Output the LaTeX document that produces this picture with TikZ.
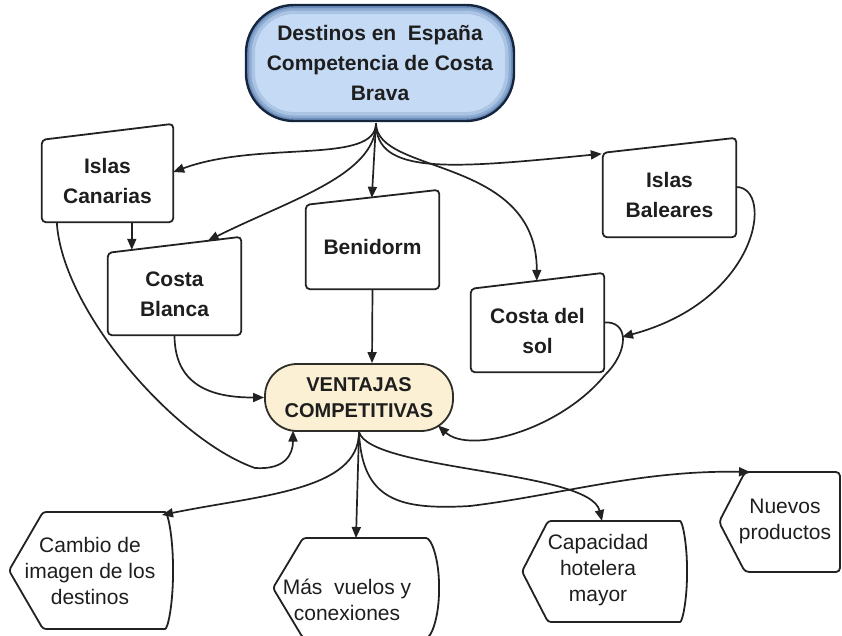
\documentclass[tikz,border=0pt]{standalone}
\usepackage{fontspec}
\setmainfont{Liberation Sans}
\usetikzlibrary{arrows.meta,calc}
\definecolor{titlefill}{HTML}{C5DBF5}
\definecolor{titleborder}{HTML}{15253D}
\definecolor{titleglow}{HTML}{4F74A8}
\definecolor{ventfill}{HTML}{FBF0D3}
\definecolor{ventborder}{HTML}{2E2E28}
\definecolor{ink}{HTML}{1E1E1E}
\definecolor{lineclr}{HTML}{222222}
\begin{document}
\begin{tikzpicture}[x=1pt,y=-1pt,
  boldtxt/.style={font=\bfseries\fontsize{21}{30}\selectfont, text=ink, align=center},
  regtxt/.style={font=\fontsize{21}{26}\selectfont, text=ink, align=center, inner sep=0pt},
  slbox/.style={boldtxt, draw=none, inner sep=0pt},
  outline/.style={draw=lineclr, line width=1.8pt, rounded corners=4pt, line join=round},
  conn/.style={draw=lineclr, line width=1.7pt, line join=round, -{Triangle[length=11pt,width=9pt]}},
  titlestyle/.style={boldtxt, rectangle, rounded corners=48pt, minimum width=268, minimum height=116,
    inner sep=0pt, fill=titlefill, draw=titleborder, line width=2.4pt,
    path picture={
      \foreach \w/\o in {18/0.22, 11/0.32, 6/0.5} {
        \draw[line width=\w pt, titleglow, opacity=\o, rounded corners=48pt]
          (path picture bounding box.south west) rectangle (path picture bounding box.north east);}
    }},
  ventstyle/.style={rectangle, rounded corners=32pt, minimum width=188, minimum height=67, inner sep=0pt,
    fill=ventfill, draw=ventborder, line width=1.8pt, text=ink, align=center,
    font=\bfseries\fontsize{20}{26}\selectfont}
]
\useasboundingbox (0,0) rectangle (842,635);

% main nodes
\node[titlestyle] (title) at (380,63) {Destinos en~ España\\Competencia de Costa\\Brava};
\node[ventstyle] (vent) at (359,397.5) {VENTAJAS\\COMPETITIVAS};

% slanted boxes
\node[slbox, minimum width=131, minimum height=82] (can) at (107.5,181) {Islas\\Canarias};
\node[slbox, minimum width=133, minimum height=82] (cb) at (174.5,294) {Costa\\Blanca};
\node[slbox, minimum width=133, minimum height=84] (ben) at (372.5,247) {Benidorm};
\node[slbox, minimum width=133, minimum height=84] (bal) at (669.5,195) {Islas\\Baleares};
\node[slbox, minimum width=133, minimum height=83] (csol) at (537.5,330.5) {Costa del\\sol};

\draw[outline] (can.south west) -- (can.north west) -- ($(can.north east)+(0,-16)$) -- (can.south east) -- cycle;
\draw[outline] (cb.south west) -- (cb.north west) -- ($(cb.north east)+(0,-16)$) -- (cb.south east) -- cycle;
\draw[outline] (ben.south west) -- (ben.north west) -- ($(ben.north east)+(0,-15)$) -- (ben.south east) -- cycle;
\draw[outline] (bal.south west) -- (bal.north west) -- ($(bal.north east)+(0,-15)$) -- (bal.south east) -- cycle;
\draw[outline] (csol.south west) -- (csol.north west) -- ($(csol.north east)+(0,-16)$) -- (csol.south east) -- cycle;

% bottom display shapes
\draw[outline, rounded corners=3pt] (9,570.5) -- (43,512) -- (162,512) .. controls (168.1,512) and (173,538.2) .. (173,570.5)
  .. controls (173,602.8) and (168.1,629) .. (162,629) -- (43,629) -- cycle;
\draw[outline, rounded corners=3pt] (273,588) -- (303,538) -- (423,538) .. controls (431.8,538) and (439,560.4) .. (439,588)
  .. controls (439,615.6) and (431.8,638) .. (423,638) -- (303,638) -- cycle;
\draw[outline, rounded corners=3pt] (522,571.5) -- (548,521) -- (677,521) .. controls (682.5,521) and (687,543.6) .. (687,571.5)
  .. controls (687,599.4) and (682.5,622) .. (677,622) -- (548,622) -- cycle;
\draw[outline, rounded corners=4pt] (719,522) -- (745,472) -- (840,472) -- (840,572) -- (745,572) -- cycle;

\node[regtxt] (camtext) at (90,571) {Cambio de\\imagen de los\\destinos};
\node[regtxt] (mastext) at (347,600) {Más~ vuelos y\\conexiones};
\node[regtxt] (captext) at (598,570) {Capacidad\\hotelera\\mayor};
\node[regtxt] (nuetext) at (785,521) {Nuevos\\productos};

% connectors from the title
\coordinate (root) at ($(title.south)+(-4,1)$);
\draw[conn] (root) .. controls +(0,42) and +(87,-32) .. ($(can.east)+(0,-9)$);
\draw[conn] (root) .. controls +(0,52) and +(82,-41) .. ($(cb.north west)+(100,-12)$);
\draw[conn] (root) -- ($(ben.north west)+(66,-7)$);
\draw[conn] (root) .. controls +(0,52) and +(-152,15) .. ($(bal.north west)+(-1,1)$);
\draw[conn] (root) .. controls +(0,52) and +(0,-125) .. ($(csol.north west)+(66,-8)$);

% between destinations and VENTAJAS
\draw[conn] ($(can.south west)+(90,0)$) -- ($(cb.north west)+(24,-3)$);
\coordinate (k1) at (255,468);
\draw[conn] ($(can.south west)+(15,0)$) .. controls +(5,88) and +(-80,-28) .. (k1)
  .. controls +(30,2) and +(0,24) .. ($(vent.center)+(-66,33)$);
\draw[conn] (cb.south) .. controls +(0,55) and +(-45,0) .. (vent.west);
\draw[conn] (ben.south) -- ($(vent.north)+(13,0)$);
\coordinate (kb) at (622,337);
\draw[conn] ($(bal.east)+(0,-8)$) .. controls +(38,0) and +(138,-37) .. (kb);
\coordinate (k2) at (605,375);
\draw[conn] ($(csol.east)+(0,-8)$) .. controls +(24,-2) and +(25,-25) .. (k2)
  .. controls +(-45,55) and +(32,29) .. ($(vent.center)+(79,28)$);

% from VENTAJAS to the bottom
\draw[conn] (vent.south) .. controls +(0,59) and +(98,-20) .. ($(camtext.center)+(72,-56)$);
\draw[conn] (vent.south) -- ($(mastext.center)+(9,-62)$);
\draw[conn] (vent.south) .. controls +(11,39) and +(-12,-51) .. ($(captext.center)+(4,-49)$);
\coordinate (kn) at (470,506);
\draw[conn] (vent.south) .. controls +(3,69) and +(-70,4) .. (kn)
  .. controls +(90,-11) and +(-110,-2) .. ($(nuetext.center)+(-35,-49)$);
\end{tikzpicture}
\end{document}
